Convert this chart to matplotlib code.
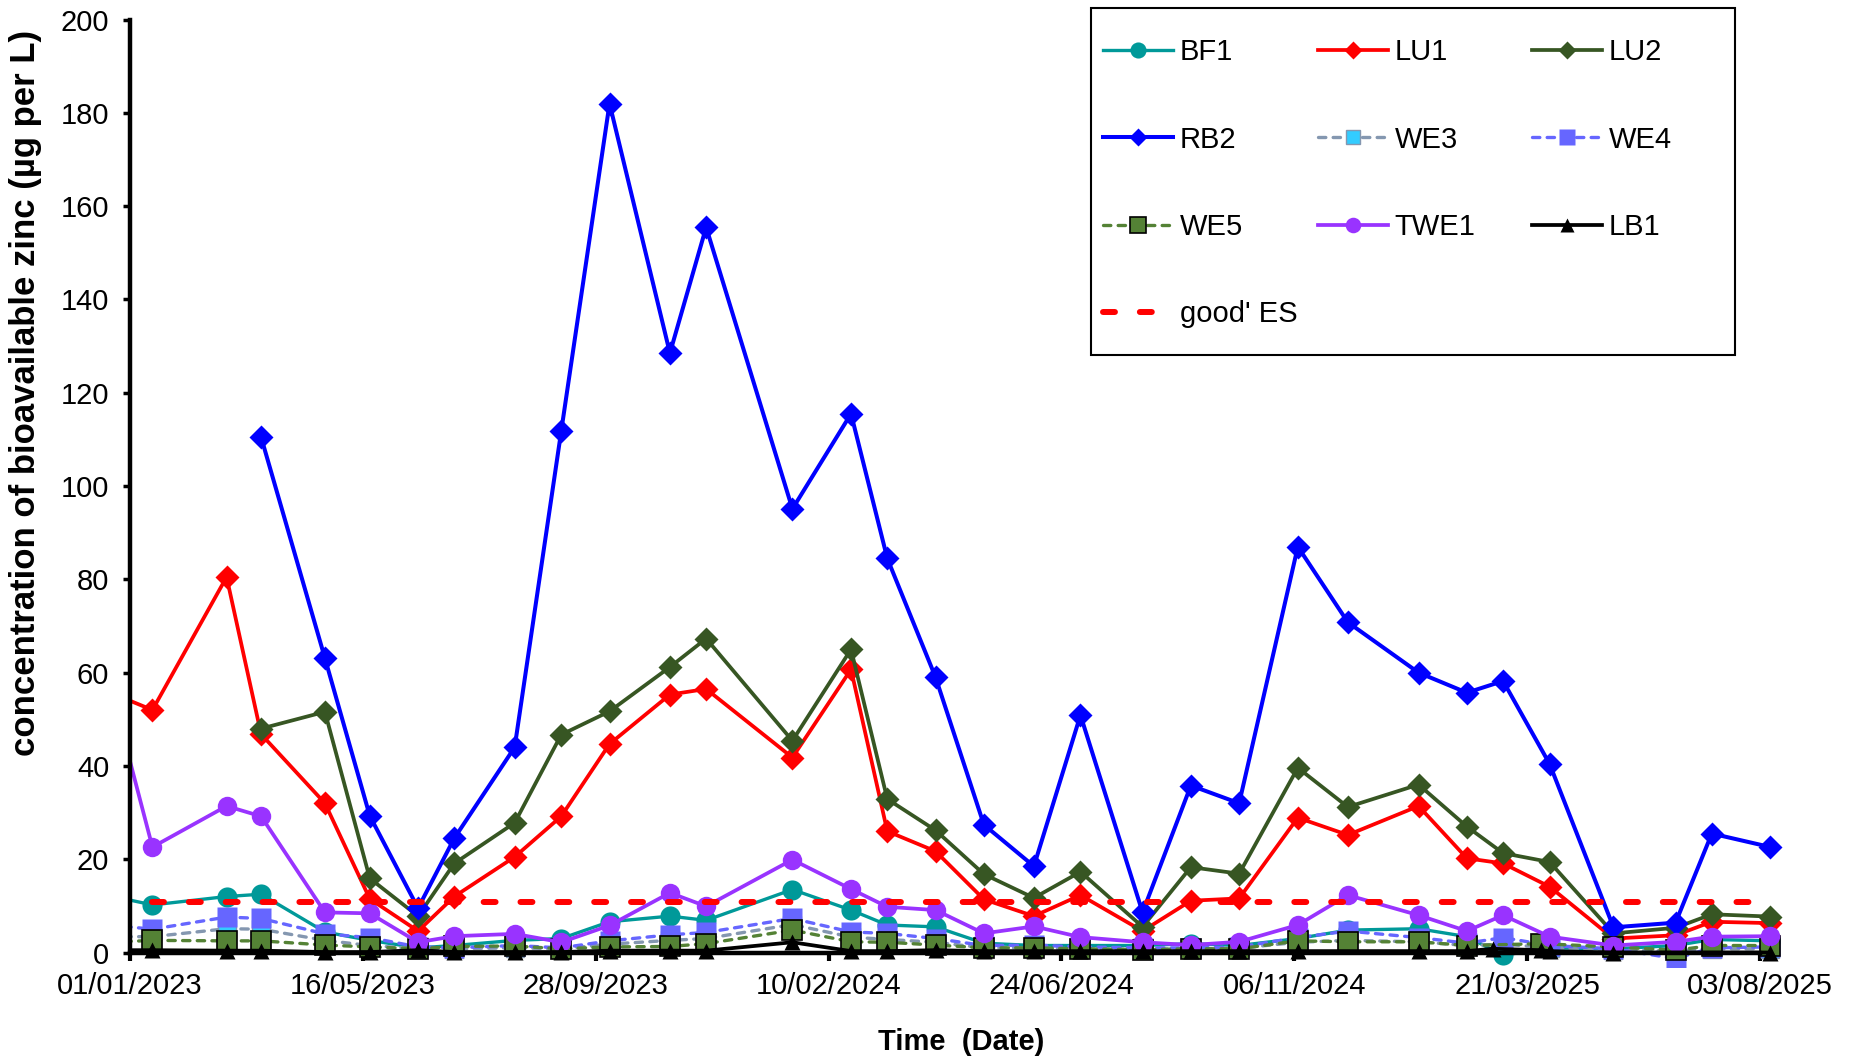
import numpy as np
import pandas as pd
import matplotlib
matplotlib.use('Agg')
import matplotlib.pyplot as plt
import matplotlib.dates as mdates
from matplotlib.patches import Rectangle

nan = np.nan

# sampling dates (first one sits before the axis start and is clipped)
dates = pd.to_datetime([
    '2022-12-20', '2023-01-14', '2023-02-26', '2023-03-18', '2023-04-24',
    '2023-05-20', '2023-06-17', '2023-07-08', '2023-08-12', '2023-09-08',
    '2023-10-06', '2023-11-10', '2023-12-01', '2024-01-20', '2024-02-23',
    '2024-03-15', '2024-04-12', '2024-05-10', '2024-06-08', '2024-07-05',
    '2024-08-10', '2024-09-07', '2024-10-05', '2024-11-08', '2024-12-07',
    '2025-01-17', '2025-02-14', '2025-03-01', '2025-03-07', '2025-03-29',
    '2025-04-03', '2025-05-10', '2025-06-15', '2025-07-06', '2025-08-09'])

bf1 = [12.2, 10.2, 12.0, 12.5, 4.4, 2.6, 1.0, 1.5, 2.6, 3.0,
       6.6, 7.8, 6.9, 13.5, 9.1, 5.9, 5.5, 2.0, 1.5, 1.5,
       1.5, 1.9, 1.5, 3.0, 4.8, 5.1, 3.4, nan, -0.6, nan,
       1.0, 0.8, 1.5, 2.8, 2.5]
lu1 = [55.8, 52.0, 80.5, 46.8, 32.0, 11.5, 4.6, 12.0, 20.5, 29.2,
       44.7, 55.3, 56.5, 41.8, 60.7, 26.0, 21.7, 11.4, 7.8, 12.3,
       4.6, 11.1, 11.6, 28.9, 25.2, 31.4, 20.2, nan, 19.1, nan,
       14.1, 3.0, 3.7, 6.6, 6.3]
lu2 = [nan, nan, nan, 48.0, 51.6, 15.9, 7.8, 19.1, 27.8, 46.7,
       51.7, 61.2, 67.3, 45.4, 65.0, 32.9, 26.2, 16.8, 11.7, 17.3,
       5.5, 18.3, 16.9, 39.6, 31.2, 36.0, 27.0, nan, 21.3, nan,
       19.4, 4.1, 5.3, 8.2, 7.7]
rb2 = [nan, nan, nan, 110.5, 63.1, 29.3, 9.5, 24.5, 44.0, 111.8,
       182.0, 128.5, 155.5, 95.1, 115.5, 84.5, 59.0, 27.4, 18.5, 50.9,
       8.6, 35.8, 32.0, 87.0, 70.8, 60.0, 55.7, nan, 58.2, nan,
       40.4, 5.4, 6.4, 25.5, 22.6]
we3 = [3.4, 3.4, 5.1, 5.0, 2.6, 1.5, 0.8, 0.8, 1.0, 0.8,
       1.8, 2.6, 3.0, 6.0, 3.3, 2.8, 2.2, 1.0, 1.0, 0.8,
       0.7, 0.8, 0.9, 2.2, 2.6, 2.3, 1.5, nan, 1.8, nan,
       1.0, 0.5, 0.3, 0.8, 0.8]
we4 = [5.9, 5.0, 7.6, 7.3, 4.0, 3.2, 1.2, 1.0, 1.5, 1.0,
       2.5, 3.8, 4.3, 7.3, 4.4, 4.1, 3.0, 1.5, 1.6, 1.2,
       1.0, 1.0, 1.2, 3.2, 4.6, 3.2, 2.0, nan, 3.2, nan,
       1.5, 0.8, -1.3, 1.0, 1.2]
we5 = [2.2, 2.6, 2.5, 2.5, 1.6, 1.2, 0.8, 1.3, 1.4, 0.8,
       1.2, 1.3, 1.9, 4.8, 2.3, 2.2, 1.6, 1.0, 1.0, 0.8,
       0.6, 0.8, 0.8, 2.5, 2.3, 2.3, 1.5, nan, nan, 1.9,
       nan, 1.2, 0.5, 1.5, 1.5]
twe1 = [58.0, 22.6, 31.4, 29.2, 8.6, 8.4, 2.2, 3.5, 4.0, 2.2,
        5.8, 12.8, 9.9, 19.9, 13.6, 9.8, 9.1, 4.1, 5.6, 3.3,
        2.2, 1.6, 2.3, 5.9, 12.3, 8.0, 4.6, nan, 8.0, nan,
        3.4, 1.5, 2.3, 3.4, 3.5]
lb1 = [0.5, 0.5, 0.4, 0.4, 0.1, 0.1, 0.5, 0.1, 0.1, 0.1,
       0.4, 0.4, 0.4, 2.2, 0.3, 0.3, 0.5, 0.3, 0.3, 0.3,
       0.3, 0.3, 0.3, 0.3, nan, 0.3, 0.3, 0.8, nan, 0.5,
       0.3, 0.0, nan, nan, 0.0]

good_es = 10.9  # 'good' ecological status threshold
es_dates = [dates[1], dates[-1]]

tick_dates = pd.date_range('2023-01-01', periods=8, freq='135D')
y_ticks = list(range(0, 201, 20))

plt.rcParams['font.family'] = ['Liberation Sans', 'DejaVu Sans']

fig = plt.figure(figsize=(18.56, 10.60), dpi=100)
ax = fig.add_axes([0.07004, 0.0882, 0.8941, 0.8933])

def plot_series(values, label, **kw):
    s = pd.Series(values, index=dates).dropna()
    line, = ax.plot(s.index, s.values, label=label, **kw)
    return line

dash_we = (0, (2.2, 2.2))
h_bf1 = plot_series(bf1, 'BF1', color='#009999', lw=2.4, marker='o', ms=14.5, mec='none')
h_lu1 = plot_series(lu1, 'LU1', color='#FF0000', lw=2.7, marker='D', ms=12, mec='none')
h_lu2 = plot_series(lu2, 'LU2', color='#375623', lw=2.7, marker='D', ms=12, mec='none')
h_rb2 = plot_series(rb2, 'RB2', color='#0000FF', lw=2.9, marker='D', ms=12, mec='none')
h_we3 = plot_series(we3, 'WE3', color='#8497B0', lw=2.4, ls=dash_we, dash_capstyle='round',
                    marker='s', ms=13, mfc='#33CCFF', mec='#8497B0', mew=1)
h_we4 = plot_series(we4, 'WE4', color='#6666FF', lw=2.4, ls=dash_we, dash_capstyle='round',
                    marker='s', ms=14, mfc='#6666FF', mec='none')
h_we5 = plot_series(we5, 'WE5', color='#548235', lw=2.4, ls=dash_we, dash_capstyle='round',
                    marker='s', ms=14, mfc='#548235', mec='black', mew=1.2)
h_twe1 = plot_series(twe1, 'TWE1', color='#9933FF', lw=2.7, marker='o', ms=14, mec='none')
h_lb1 = plot_series(lb1, 'LB1', color='black', lw=2.7, marker='^', ms=12, mec='none')
h_es, = ax.plot(es_dates, [good_es, good_es], color='#FF0000', lw=4.3,
                ls=(0, (2, 4.17)), dash_capstyle='round', label="good' ES")

# axes
ax.set_xlim(pd.Timestamp('2023-01-01'), pd.Timestamp('2025-08-20'))
ax.set_ylim(-3, 200)
ax.spines['top'].set_visible(False)
ax.spines['right'].set_visible(False)
ax.spines['bottom'].set_position(('data', 0))
ax.spines['bottom'].set_bounds(mdates.date2num(tick_dates[0]), mdates.date2num(tick_dates[-1]))
ax.spines['left'].set_bounds(0, 200)
for sp in ('left', 'bottom'):
    ax.spines[sp].set_linewidth(3.2)

ax.set_xticks(tick_dates)
ax.xaxis.set_major_formatter(mdates.DateFormatter('%d/%m/%Y'))
ax.set_yticks(y_ticks)
ax.tick_params(axis='x', direction='out', length=6, width=3, labelsize=21, pad=8)
ax.tick_params(axis='y', direction='out', length=5, width=2.5, labelsize=21, pad=10)

ax.set_xlabel('Time  (Date)', fontsize=21, fontweight='bold')
ax.xaxis.set_label_coords(0.5008, -0.0797)
ax.xaxis.label.set_verticalalignment('center')
ax.set_ylabel('concentration of bioavailable zinc (µg per L)', fontsize=25, fontweight='bold')
ax.yaxis.set_label_coords(-0.0627, 0.6057)
ax.yaxis.label.set_verticalalignment('center')

# legend: boxed, three columns laid out row by row
fig.add_artist(Rectangle((0.5878, 0.6647), 0.3470, 0.3281, transform=fig.transFigure,
                         facecolor='white', edgecolor='black', lw=1.5, zorder=1))
columns = [
    (0.5941, [h_bf1, h_rb2, h_we5, h_es]),
    (0.7099, [h_lu1, h_we3, h_twe1]),
    (0.8253, [h_lu2, h_we4, h_lb1]),
]
for x0, hs in columns:
    fig.legend(handles=hs, labels=[h.get_label() for h in hs], loc='upper left',
               bbox_to_anchor=(x0, 0.9638), frameon=False, fontsize=21,
               borderpad=0, borderaxespad=0, labelspacing=2.03,
               handlelength=2.4, handletextpad=0.25, markerscale=0.8)

fig.savefig('out.png', dpi=100)
